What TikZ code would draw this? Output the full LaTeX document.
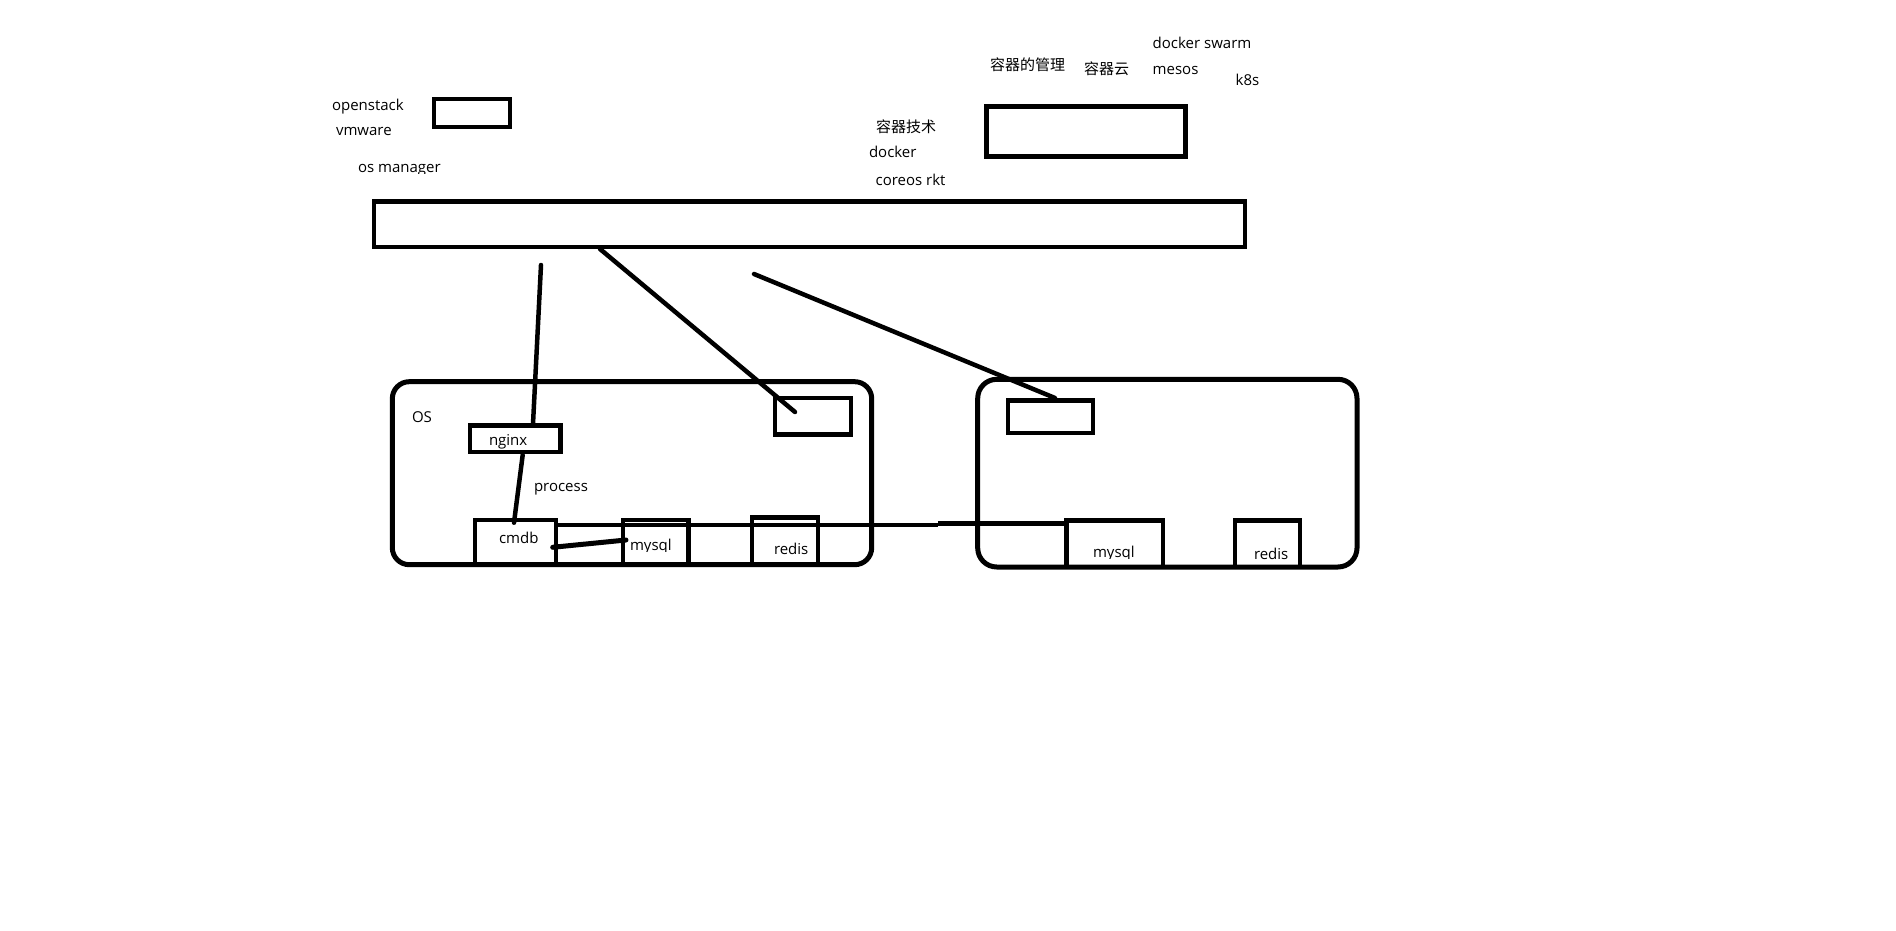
\documentclass[tikz,border=0pt]{standalone}
\usepackage{fontspec}
\setmainfont{Open Sans}
\newfontfamily\cjk{Noto Sans CJK SC}
\begin{document}
\begin{tikzpicture}[x=1pt,y=-1pt,
  box/.style={draw=black,line width=4.5pt,inner sep=0pt,outer sep=0pt,fill=none},
  thickbox/.style={box,line width=5pt},
  roundbox/.style={box,line width=5pt,rounded corners=17pt},
  txt/.style={anchor=base west,inner sep=0pt,outer sep=0pt,font=\fontsize{15pt}{18pt}\selectfont,text=black},
  cn/.style={txt,font=\fontsize{15pt}{18pt}\selectfont\cjk},
  wire/.style={draw=black,line width=4.5pt,line cap=round}]
\fill[white] (0,0) rectangle (1896,931);
\useasboundingbox (0,0) rectangle (1896,931);

% boxes
\node[box,minimum width=76pt,minimum height=28pt] (osm) at (472,113) {};
\node[thickbox,minimum width=198.5pt,minimum height=50pt] (cbox) at (1085.75,131.5) {};
\node[box,minimum width=871pt,minimum height=45.5pt] (bar) at (809.5,224.25) {};
\node[roundbox,minimum width=479.4pt,minimum height=183pt] (osL) at (632,473.2) {};
\node[box,minimum width=76pt,minimum height=36.5pt] (smL) at (813,416.25) {};
\node[box,minimum width=90.5pt,minimum height=26.5pt] (nginx) at (515.25,438.75) {};
\node[box,minimum width=81pt,minimum height=44.7pt] (cmdb) at (515.5,542.35) {};
\node[box,minimum width=65.5pt,minimum height=44.7pt] (mysqlL) at (655.75,542.35) {};
\node[box,minimum width=66pt,minimum height=47.2pt] (redisL) at (785,541.1) {};
\node[roundbox,rounded corners=19pt,minimum width=379.3pt,minimum height=187.7pt] (osR) at (1167.35,473.15) {};
\node[box,minimum width=85pt,minimum height=32.5pt] (smR) at (1050.5,416.75) {};
\node[box,minimum width=96.5pt,minimum height=46.5pt] (mysqlR) at (1114.75,543.75) {};
\node[box,minimum width=65pt,minimum height=46.5pt] (redisR) at (1267.5,543.75) {};

% texts
\node[txt] (t1) at (332,111) {openstack};
\node[txt] (t2) at (336,136) {vmware};
\begin{scope}
\clip (340,150) rectangle (460,174);
\node[txt] (t3) at (358,172.7) {os manager};
\end{scope}
\node[txt] (t4) at (1152.7,48.3) {docker swarm};
\node[cn] (t5) at (990,71) {容器的管理};
\node[cn] (t6) at (1084,75) {容器云};
\node[txt] (t7) at (1152.7,74.3) {mesos};
\node[txt] (t8) at (1235.7,86) {k8s};
\node[cn] (t9) at (876,133) {容器技术};
\node[txt] (t10) at (869,157.7) {docker};
\node[txt] (t11) at (875.7,185.7) {coreos rkt};
\node[txt] (t12) at (412,422.7) {OS};
\node[txt] (t13) at (489,445) {nginx};
\node[txt] (t14) at (534,491.7) {process};
\node[txt] (t15) at (499,543.3) {cmdb};
\begin{scope}
\clip (625,525) rectangle (686,551);
\node[txt] (t16) at (630,550.3) {mysql};
\end{scope}
\node[txt] (t17) at (774,554.3) {redis};
\begin{scope}
\clip (1070,525) rectangle (1160,558);
\node[txt] (t18) at (1093,557.3) {mysql};
\end{scope}
\node[txt] (t19) at (1254,559.3) {redis};

% connector ends
\coordinate (a1) at (541,265);
\coordinate (a2) at (533,424);
\coordinate (b1) at (600,249);
\coordinate (b2) at (795,412);
\coordinate (c1) at (754,274);
\coordinate (c2) at (1055,398);
\coordinate (d1) at (522.7,455);
\coordinate (d2) at (514,522.7);
\coordinate (e1) at (552.7,547.3);
\coordinate (e2) at (626,540);
\coordinate (f1) at (558,525);
\coordinate (f2) at (938,525);
\coordinate (f3) at (938,523.5);
\coordinate (f4) at (1064,523.5);

% connectors
\draw[wire] (a1) -- (a2);
\draw[wire] (b1) -- (b2);
\draw[wire] (c1) -- (c2);
\draw[wire] (d1) -- (d2);
\draw[wire,line width=5pt] (e1) -- (e2);
\draw[wire,line cap=butt] (f1) -- (f2);
\draw[wire,line cap=butt] (f3) -- (f4);
\end{tikzpicture}
\end{document}
